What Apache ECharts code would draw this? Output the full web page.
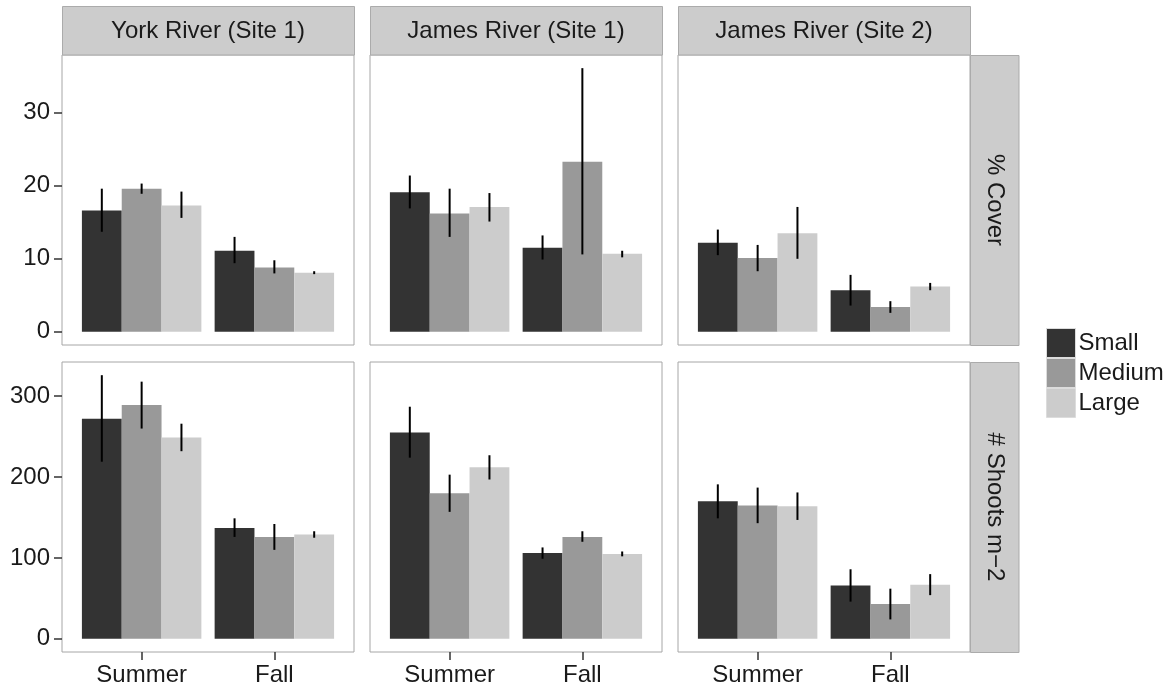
<!DOCTYPE html>
<html>
<head>
<meta charset="utf-8">
<script src="https://cdn.jsdelivr.net/npm/echarts@6/dist/echarts.min.js"></script>
<style>
html,body{margin:0;padding:0;background:#fff;}
#chart{width:1169px;height:692px;}
</style>
</head>
<body>
<div id="chart"></div>
<script>
// ---- data ----
const sites = ['York River (Site 1)', 'James River (Site 1)', 'James River (Site 2)'];
const metrics = ['% Cover', '# Shoots m\u22122'];
const seasons = ['Summer', 'Fall'];
const sizes = ['Small', 'Medium', 'Large'];
const coverTicks = [0, 10, 20, 30];
const shootTicks = [0, 100, 200, 300];

// order within each array: Summer Small, Medium, Large, Fall Small, Medium, Large
const coverYork      = [16.6, 19.6, 17.3, 11.1, 8.8, 8.1];
const coverYorkLo    = [13.7, 18.9, 15.6, 9.4, 8.0, 7.9];
const coverYorkHi    = [19.6, 20.3, 19.2, 13.0, 9.8, 8.3];
const coverJames1    = [19.1, 16.2, 17.1, 11.5, 23.3, 10.7];
const coverJames1Lo  = [16.9, 13.0, 15.1, 9.9, 10.6, 10.2];
const coverJames1Hi  = [21.4, 19.6, 19.0, 13.2, 36.1, 11.1];
const coverJames2    = [12.2, 10.1, 13.5, 5.7, 3.4, 6.2];
const coverJames2Lo  = [10.5, 8.3, 10.0, 3.6, 2.6, 5.7];
const coverJames2Hi  = [14.0, 11.9, 17.1, 7.8, 4.2, 6.7];

const shootsYork     = [272, 289, 249, 137, 126, 129];
const shootsYorkLo   = [219, 260, 232, 126, 110, 125];
const shootsYorkHi   = [326, 318, 266, 149, 142, 133];
const shootsJames1   = [255, 180, 212, 106, 126, 105];
const shootsJames1Lo = [224, 157, 197, 99, 120, 102];
const shootsJames1Hi = [287, 203, 227, 113, 133, 108];
const shootsJames2   = [170, 165, 164, 66, 43, 67];
const shootsJames2Lo = [149, 143, 147, 46, 24, 54];
const shootsJames2Hi = [191, 187, 181, 86, 62, 80];

// ---- layout / style ----
const FONT = 'Liberation Sans, Arial, Helvetica, sans-serif';
const FS = 24;
const TXT = '#1a1a1a';
const fills = ['#333333', '#999999', '#cccccc'];
const colLeft = [62, 370, 678];
const colW = 292;
const rowTop = [55, 362];
const rowH = [290, 290];
const yRange = [[-1.8, 37.9], [-16.3, 342.3]];

const panelData = [
  [[coverYork, coverYorkLo, coverYorkHi], [coverJames1, coverJames1Lo, coverJames1Hi], [coverJames2, coverJames2Lo, coverJames2Hi]],
  [[shootsYork, shootsYorkLo, shootsYorkHi], [shootsJames1, shootsJames1Lo, shootsJames1Hi], [shootsJames2, shootsJames2Lo, shootsJames2Hi]]
];

const grids = [], xAxes = [], yAxes = [], series = [], graphics = [];
let gi = 0;
for (let r = 0; r < 2; r++) {
  for (let c = 0; c < 3; c++) {
    grids.push({
      left: colLeft[c], top: rowTop[r], width: colW, height: rowH[r],
      show: true, borderColor: '#a6a6a6', borderWidth: 1, backgroundColor: '#fff'
    });
    const bottom = r === 1;
    xAxes.push({
      type: 'value', gridIndex: gi, min: 0.4, max: 2.6, position: 'bottom',
      axisLine: { show: false, onZero: false }, splitLine: { show: false },
      axisTick: { show: bottom, customValues: [1, 2], length: 8, lineStyle: { color: '#333', width: 1.5 } },
      axisLabel: {
        show: bottom, customValues: [1, 2], margin: 11,
        formatter: v => seasons[Math.round(v) - 1] || '',
        color: TXT, fontSize: FS, fontFamily: FONT
      }
    });
    const ticks = r === 0 ? coverTicks : shootTicks;
    yAxes.push({
      type: 'value', gridIndex: gi, min: yRange[r][0], max: yRange[r][1], position: 'left',
      axisLine: { show: false, onZero: false }, splitLine: { show: false },
      axisTick: { show: c === 0, customValues: ticks, length: 8, lineStyle: { color: '#333', width: 1.5 } },
      axisLabel: { show: c === 0, customValues: ticks, margin: 12, color: TXT, fontSize: FS, fontFamily: FONT }
    });
    const [means, los, his] = panelData[r][c];
    for (let s = 0; s < 3; s++) {
      const data = seasons.map((_, k) => [k, means[k * 3 + s], los[k * 3 + s], his[k * 3 + s]]);
      const sizeIdx = s;
      series.push({
        type: 'custom', name: sizes[s], xAxisIndex: gi, yAxisIndex: gi,
        itemStyle: { color: fills[s] },
        encode: { x: 0, y: 1 },
        data: data,
        renderItem: function (params, api) {
          const cx = api.value(0) + 1 + (sizeIdx - 1) * 0.3;
          const m = api.value(1), lo = api.value(2), hi = api.value(3);
          const p0 = api.coord([cx - 0.15, m]);
          const p1 = api.coord([cx + 0.15, 0]);
          const t = api.coord([cx, hi]);
          const b = api.coord([cx, lo]);
          return {
            type: 'group',
            children: [
              { type: 'rect', shape: { x: p0[0], y: p0[1], width: p1[0] - p0[0], height: p1[1] - p0[1] },
                style: { fill: fills[sizeIdx] } },
              { type: 'line', shape: { x1: t[0], y1: t[1], x2: b[0], y2: b[1] },
                style: { stroke: '#000', lineWidth: 2 } }
            ]
          };
        }
      });
    }
    gi++;
  }
}

// strips
for (let c = 0; c < 3; c++) {
  graphics.push({
    type: 'rect', shape: { x: colLeft[c] + 0.5, y: 6.5, width: colW, height: 48.5 },
    style: { fill: '#cccccc', stroke: '#ababab', lineWidth: 1 }
  });
  graphics.push({
    type: 'text', x: colLeft[c] + colW / 2, y: 31,
    style: { text: sites[c], fill: TXT, font: FS + 'px ' + FONT, textAlign: 'center', textVerticalAlign: 'middle' }
  });
}
for (let r = 0; r < 2; r++) {
  graphics.push({
    type: 'rect', shape: { x: 970.5, y: rowTop[r] + 0.5, width: 48.5, height: rowH[r] },
    style: { fill: '#cccccc', stroke: '#ababab', lineWidth: 1 }
  });
  graphics.push({
    type: 'text', x: 995, y: rowTop[r] + rowH[r] / 2, rotation: -Math.PI / 2,
    style: { text: metrics[r], fill: TXT, font: FS + 'px ' + FONT, textAlign: 'center', textVerticalAlign: 'middle' }
  });
}

const chart = echarts.init(document.getElementById('chart'), null, { renderer: 'canvas' });
chart.setOption({
  animation: false,
  backgroundColor: '#fff',
  grid: grids,
  xAxis: xAxes,
  yAxis: yAxes,
  series: series,
  graphic: graphics,
  legend: {
    data: sizes, orient: 'vertical', left: 1041, top: 323,
    icon: 'rect', itemWidth: 29, itemHeight: 29, itemGap: 0,
    itemStyle: { borderColor: '#dcdcdc', borderWidth: 1 },
    textStyle: { color: TXT, fontSize: FS, fontFamily: FONT, padding: [0, 0, 0, -2] },
    selectedMode: false
  }
});
</script>
</body>
</html>
